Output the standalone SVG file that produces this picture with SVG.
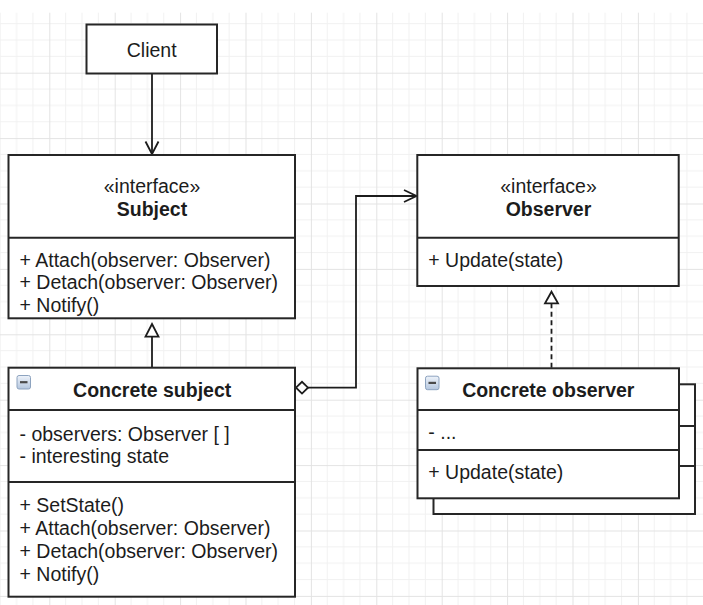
<svg xmlns="http://www.w3.org/2000/svg" width="703" height="605" viewBox="0 0 703 605">
<style>
.box{fill:#ffffff;stroke:#262626;stroke-width:2}
.div{stroke:#262626;stroke-width:2;fill:none}
.t{font-family:"Liberation Sans",Arial,sans-serif;font-size:19.5px;fill:#1c1c1c}
.c{text-anchor:middle}
.b{font-weight:bold}
.con{fill:none;stroke:#1c1c1c;stroke-width:1.8}
.head{fill:#ffffff;stroke:#1c1c1c;stroke-width:1.8}
</style>
<defs>
<pattern id="grid" patternUnits="userSpaceOnUse" x="49.3" y="72.7" width="65.4" height="65.4">
<path d="M16.35 0V65.4M32.7 0V65.4M49.05 0V65.4M0 16.35H65.4M0 32.7H65.4M0 49.05H65.4" stroke="#f1f1f1" stroke-width="1" fill="none"/>
<path d="M0.5 0V65.4M0 0.5H65.4" stroke="#e3e3e3" stroke-width="1" fill="none"/>
</pattern>
<linearGradient id="ig" x1="0" y1="0" x2="0" y2="1">
<stop offset="0" stop-color="#eef3fa"/>
<stop offset="1" stop-color="#b4c6de"/>
</linearGradient>
<g id="icon">
<rect x="0.5" y="0.5" width="13.5" height="13.5" rx="2" fill="url(#ig)" stroke="#8da3bf" stroke-width="1"/>
<path d="M3.5 7.2H11" stroke="#4a4a4a" stroke-width="2.2"/>
</g>
</defs>
<rect x="0" y="0" width="703" height="605" fill="#ffffff"/>
<rect x="0" y="12.7" width="703" height="592.3" fill="url(#grid)"/>

<g id="connectors">
<path class="con" d="M152 73.5V154"/>
<path class="con" d="M145.5 141.5L152 154L158.5 141.5"/>
<path class="con" d="M152 336.7V367.5"/>
<path class="head" d="M152 324L158.5 336.7H145.5Z"/>
<path class="con" d="M551.5 303.3V368.5" stroke-dasharray="5 3.5"/>
<path class="head" d="M551.5 291.7L558 303.3H545Z"/>
<path class="con" d="M308 387.7H356V196H416"/>
<path class="head" d="M296 387.7L302 381.8L308 387.7L302 393.6Z"/>
<path class="con" d="M404 190L416.5 196L404 202"/>
</g>

<g id="client">
<rect class="box" x="86.5" y="24.5" width="130.5" height="49"/>
<text class="t c" x="151.7" y="57">Client</text>
</g>

<g id="subject">
<rect class="box" x="8.5" y="155" width="286.5" height="163.3"/>
<path class="div" d="M8.5 237.7H295"/>
<text class="t c" x="152" y="193.3">«interface»</text>
<text class="t c b" x="152" y="215.7">Subject</text>
<text class="t" x="19.5" y="266.5">+ Attach(observer: Observer)</text>
<text class="t" x="19.5" y="289.3">+ Detach(observer: Observer)</text>
<text class="t" x="19.5" y="312">+ Notify()</text>
</g>

<g id="observer">
<rect class="box" x="417.3" y="155" width="261.4" height="131"/>
<path class="div" d="M417.3 237.7H678.7"/>
<text class="t c" x="548.5" y="193.3">«interface»</text>
<text class="t c b" x="548.5" y="215.7">Observer</text>
<text class="t" x="428.3" y="267.3">+ Update(state)</text>
</g>

<g id="concrete-subject">
<rect class="box" x="8.5" y="367.7" width="286.5" height="229"/>
<path class="div" d="M8.5 410H295M8.5 482H295"/>
<use href="#icon" x="16.5" y="375"/>
<text class="t c b" x="152.2" y="397.3">Concrete subject</text>
<text class="t" x="19.5" y="440.5">- observers: Observer [ ]</text>
<text class="t" x="19.5" y="462.5">- interesting state</text>
<text class="t" x="19.5" y="512.3">+ SetState()</text>
<text class="t" x="19.5" y="535">+ Attach(observer: Observer)</text>
<text class="t" x="19.5" y="558">+ Detach(observer: Observer)</text>
<text class="t" x="19.5" y="580.7">+ Notify()</text>
</g>

<g id="concrete-observer">
<rect class="box" x="433.5" y="384.3" width="261.5" height="129.7"/>
<path class="div" d="M433.5 426H695M433.5 466H695"/>
<rect class="box" x="417.5" y="368.3" width="261.5" height="130"/>
<path class="div" d="M417.5 410H679M417.5 450H679"/>
<use href="#icon" x="425" y="375.7"/>
<text class="t c b" x="548.3" y="397.3">Concrete observer</text>
<text class="t" x="428.3" y="439.3">- ...</text>
<text class="t" x="428.3" y="479.3">+ Update(state)</text>
</g>
</svg>
